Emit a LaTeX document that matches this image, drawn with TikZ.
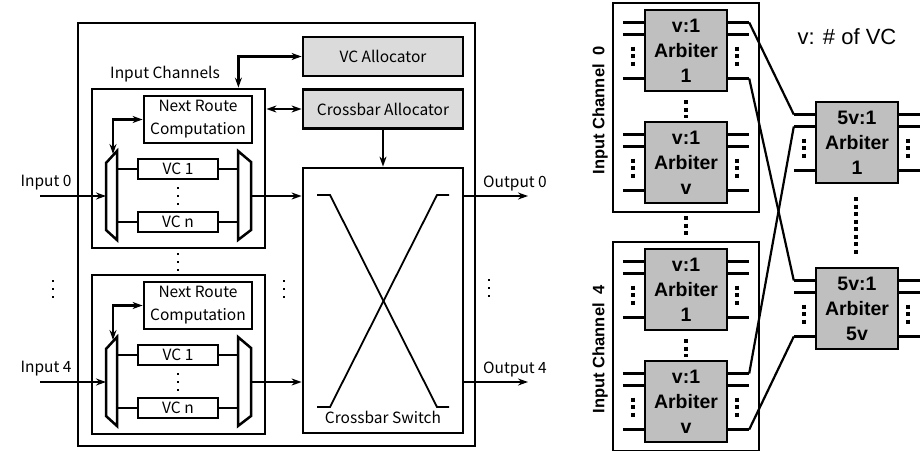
\documentclass[tikz,border=0pt]{standalone}
\usepackage{fontspec}
\setsansfont{Liberation Sans}
\newfontfamily\jpfont{Noto Sans CJK JP}
\usetikzlibrary{arrows.meta,calc}
\newcommand\lblfont{\jpfont\fontsize{15.5}{23}\selectfont}
\newcommand\arbfont{\sffamily\bfseries\fontsize{19.5}{25}\selectfont}
\tikzset{frame/.style={draw=black, line width=2.8pt},
       blk/.style={rectangle, draw=black, line width=2.8pt, inner sep=0pt, text centered, align=center, font=\lblfont},
       alloc/.style={blk, fill=gray!28, minimum width=160pt, minimum height=39pt},
       nrc/.style={blk, minimum width=108pt, minimum height=47pt},
       vcbox/.style={blk, minimum width=80pt, minimum height=20pt},
       chbox/.style={blk, minimum width=173pt, minimum height=159pt},
       muxshape/.style={draw=black, line width=2.5pt, line join=miter},
       wire/.style={draw=black, line width=2pt},
       xline/.style={draw=black, line width=1.8pt},
       arr/.style={line width=2.4pt, -{Stealth[length=10pt,width=7pt]}},
       darr/.style={line width=2.4pt, {Stealth[length=10pt,width=7pt]}-{Stealth[length=10pt,width=7pt]}},
       lbl/.style={font=\lblfont, inner sep=0pt},
       dotsl/.style={draw=black, line width=2pt, dash pattern=on 2pt off 6pt},
       arb/.style={rectangle, draw=black, line width=2.4pt, fill=gray!50, minimum width=82pt, minimum height=81pt, inner sep=0pt, align=center, font=\arbfont},
       icbox/.style={rectangle, draw=black, line width=2.4pt, minimum width=146pt, minimum height=209pt},
       stub/.style={draw=black, line width=2.2pt},
       dotsb/.style={draw=black, line width=4pt, dash pattern=on 4pt off 3.5pt}}

\begin{document}
\begin{tikzpicture}[x=1pt, y=-1pt]
\useasboundingbox (0,0) rectangle (921,450);

% router
\draw[frame] (78,23) rectangle (475,446);
\node[alloc] (vca) at (383,56.5) {VC Allocator};
\node[alloc] (cba) at (383,109) {Crossbar Allocator};
\node[blk, minimum width=160pt, minimum height=265pt] (xbar) at (383,300.5) {};
\node[lbl] at (383,417) {Crossbar Switch};
\node[lbl] at (165,74) {Input Channels};
\draw[xline] (317,195) -- (330,195) -- (437,407) -- (449,407);
\draw[xline] (449,195) -- (437,195) -- (330,407) -- (317,407);

\foreach \s/\n in {0/0, 186/4} {
  \node[chbox] (ch\n) at (178.5,168.5+\s) {};
  \node[nrc] (nrc\n) at (198,119.5+\s) {Next Route\\Computation};
  \node[vcbox] (vc\n-1) at (178,169+\s) {VC 1};
  \node[vcbox] (vc\n-n) at (178,222+\s) {VC n};
  \draw[muxshape] (106,163+\s) -- (117,151+\s) -- (117,240+\s) -- (106,230+\s) -- cycle;
  \draw[muxshape] (238,151+\s) -- (251,162+\s) -- (251,230+\s) -- (238,240+\s) -- cycle;
  \coordinate (dmx\n) at (117,196+\s);
  \coordinate (dml\n) at (106,196+\s);
  \coordinate (dmt\n) at (113,154+\s);
  \coordinate (mxl\n) at (238,196+\s);
  \coordinate (mx\n) at (251,196+\s);
  \coordinate (in\n) at (40,196+\s);
  \coordinate (out\n) at (528,196+\s);
  \draw[wire] (dmx\n |- vc\n-1.west) -- (vc\n-1.west);
  \draw[wire] (dmx\n |- vc\n-n.west) -- (vc\n-n.west);
  \draw[wire] (vc\n-1.east) -- (mxl\n |- vc\n-1.east);
  \draw[wire] (vc\n-n.east) -- (mxl\n |- vc\n-n.east);
  \draw[dotsl] (178,187+\s) -- (178,206+\s);
  \draw[darr] (dmt\n) |- (nrc\n.west);
  \draw[arr] (in\n) -- (dml\n);
  \draw[arr] (mx\n) -- (mx\n -| xbar.west);
  \draw[arr] (out\n -| xbar.east) -- (out\n);
  \node[lbl] at (46,183+\s) {Input \n};
  \node[lbl] at (515,183+\s) {Output \n};
}
\draw[darr] (vca.west) -| ([xshift=-28pt]ch0.north east);
\draw[darr] (ch0.east |- cba.west) -- (cba.west);
\draw[arr] (cba.south) -- (xbar.north);
\draw[dotsl] (178,253) -- (178,272);
\draw[dotsl] (53,280) -- (53,299);
\draw[dotsl] (284,280) -- (284,299);
\draw[dotsl] (489,279) -- (489,298);

% arbiters
\node[font=\sffamily\fontsize{22}{26}\selectfont] (key) at (847,37) {v: \# of VC};
\foreach \t/\n in {0/0, 239/4} {
  \node[icbox] (ich\n) at (686,107.5+\t) {};
  \node[rotate=90, inner sep=0pt, font=\sffamily\bfseries\fontsize{16.5}{20}\selectfont] at (600,110+\t) {Input Channel\ \ \n};
  \node[arb] (arb\n-1) at (686,50.5+\t) {v:1\\Arbiter\\1};
  \node[arb] (arb\n-v) at (686,162.5+\t) {v:1\\Arbiter\\v};
  \draw[dotsb] (686,100+\t) -- (686,118+\t);
}
\node[arb] (arb5v-1) at (857,142.5) {5v:1\\Arbiter\\1};
\node[arb] (arb5v-5v) at (857,308.5) {5v:1\\Arbiter\\5v};
\foreach \a in {arb0-1, arb0-v, arb4-1, arb4-v, arb5v-1, arb5v-5v} {
  \foreach \d/\i in {-28/1, -16/2, 28/3} {
    \coordinate (\a-i\i) at ($(\a.west)+(-21,\d)$);
    \coordinate (\a-o\i) at ($(\a.east)+(21,\d)$);
    \draw[stub] (\a-i\i) -- (\a-i\i -| \a.west);
    \draw[stub] (\a-o\i -| \a.east) -- (\a-o\i);
  }
  \draw[dotsb] ($(\a.west)+(-11,-4)$) -- ($(\a.west)+(-11,16)$);
  \draw[dotsb] ($(\a.east)+(9,-4)$) -- ($(\a.east)+(9,16)$);
}
\draw[dotsb] (686,216) -- (686,235);
\draw[dotsb] (856,197) -- (856,256);
\draw[stub] (arb0-1-o1) -- (arb5v-1-i1);
\draw[stub] (arb0-1-o3) -- (arb5v-5v-i1);
\draw[stub] (arb4-v-o1) -- (arb5v-1-i2);
\draw[stub] (arb4-v-o3) -- (arb5v-5v-i3);
\end{tikzpicture}
\end{document}
